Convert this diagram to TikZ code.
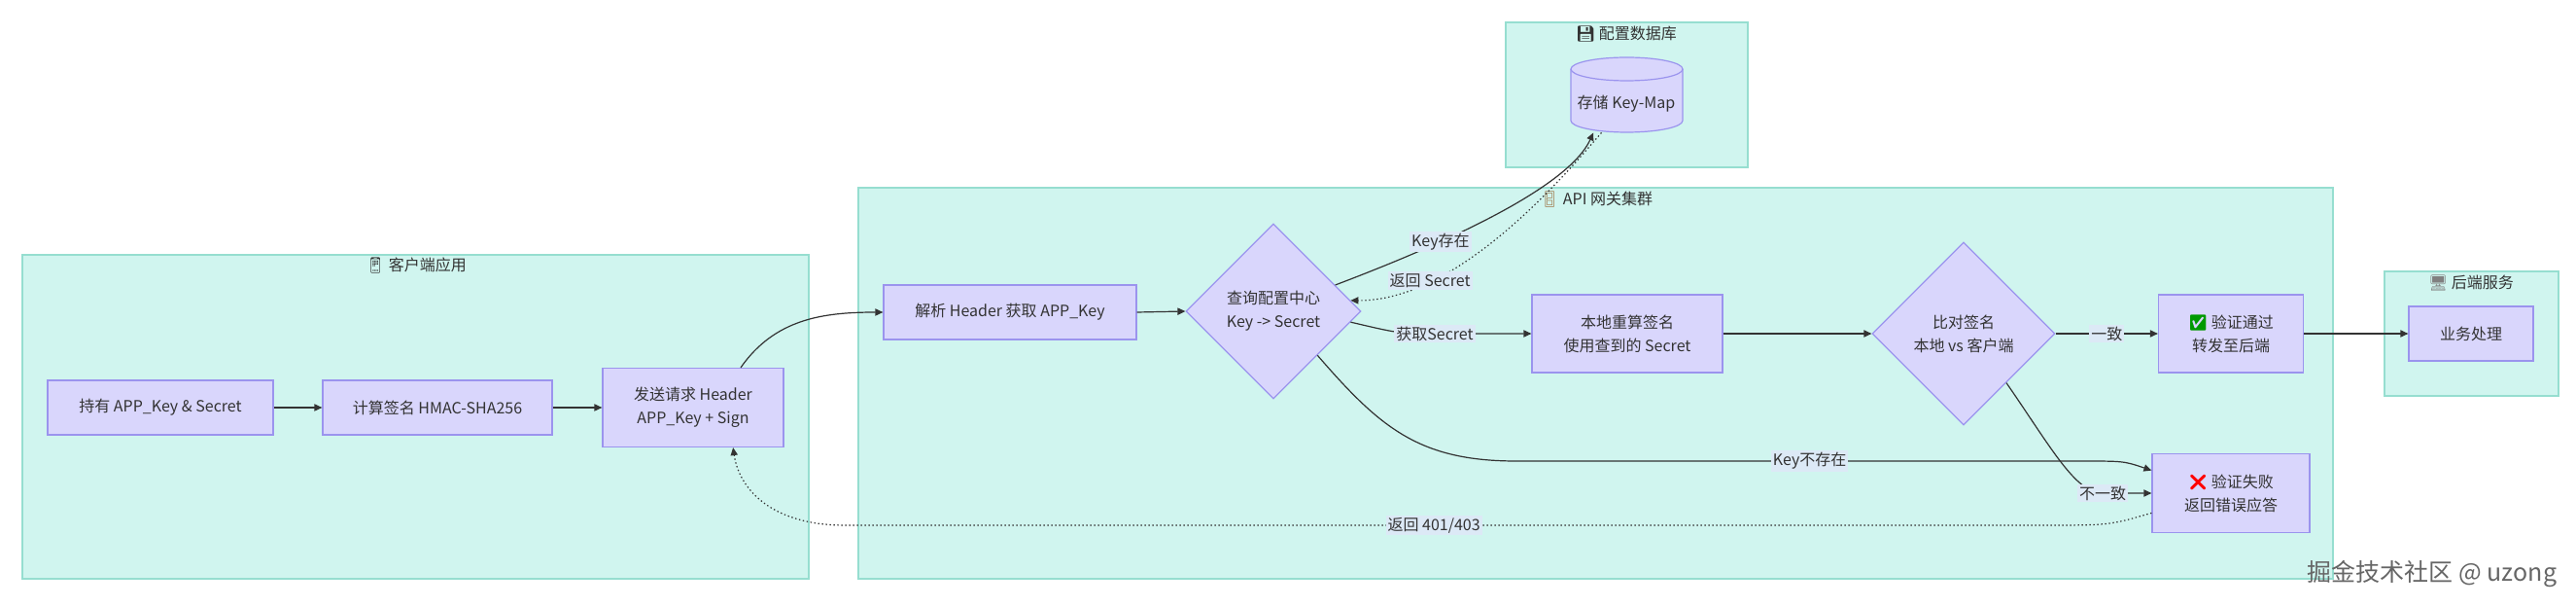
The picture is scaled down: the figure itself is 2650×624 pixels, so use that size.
\documentclass[tikz,border=0pt]{standalone}
\usepackage{fontspec}
\setmainfont{Noto Sans CJK SC}
\newfontfamily\emoji{Noto Emoji}
\usetikzlibrary{arrows.meta,shapes.geometric}
\definecolor{clusterfill}{RGB}{208,245,239}
\definecolor{clusterline}{RGB}{150,222,208}
\definecolor{boxfill}{RGB}{217,214,252}
\definecolor{boxline}{RGB}{155,148,238}
\definecolor{lblfill}{RGB}{220,233,246}
\definecolor{ink}{RGB}{51,51,51}
\begin{document}
\begin{tikzpicture}[x=0.5pt,y=-0.5pt,
	every node/.style={font=\fontsize{8}{12}\selectfont, text=ink},
	cluster/.style={fill=clusterfill, draw=clusterline, line width=0.6pt},
	box/.style={rectangle, fill=boxfill, draw=boxline, line width=0.6pt, align=center, inner sep=0pt},
	decision/.style={diamond, aspect=1, fill=boxfill, draw=boxline, line width=0.6pt, align=center, inner sep=0pt},
	flow/.style={draw=ink, line width=0.6pt, -{Triangle[length=4pt,width=3.6pt]}},
	reply/.style={flow, dash pattern=on 0.7pt off 1.3pt},
	lbl/.style={fill=lblfill, inner sep=1pt}]
	\fill[white] (0,0) rectangle (2650,624);
	\useasboundingbox (0,0) rectangle (2650,624);
	\filldraw[cluster] (23,262) rectangle (832,595);
	\node (clienttitle) at (428,273) {{\emoji 📱} 客户端应用};
	\filldraw[cluster] (883,193) rectangle (2400,595);
	\node (gatewaytitle) at (1642,205) {{\color{brown!80!black}\emoji 🚪} API 网关集群};
	\filldraw[cluster] (1549,23) rectangle (1798,172);
	\node (dbtitle) at (1673,35) {{\emoji 💾} 配置数据库};
	\filldraw[cluster] (2453,279) rectangle (2632,407);
	\node (backendtitle) at (2542,291) {{\color{gray}\emoji 🖥} 后端服务};
	\node[box, minimum width=116pt, minimum height=28pt] (hold) at (165,419) {持有 APP\_Key \& Secret};
	\node[box, minimum width=118pt, minimum height=28pt] (sign) at (450,419) {计算签名 HMAC-SHA256};
	\node[box, minimum width=93pt, minimum height=40.5pt] (send) at (713,419) {发送请求 Header\\APP\_Key + Sign};
	\node[box, minimum width=130pt, minimum height=28pt] (parse) at (1039,321) {解析 Header 获取 APP\_Key};
	\node[decision, minimum width=90pt, minimum height=90pt] (query) at (1310,320) {查询配置中心\\Key -> Secret};
	\node[box, minimum width=98pt, minimum height=40pt] (recalc) at (1674,343) {本地重算签名\\使用查到的 Secret};
	\node[decision, minimum width=94pt, minimum height=94pt] (compare) at (2020,343) {比对签名\\本地 vs 客户端};
	\node[box, minimum width=74.5pt, minimum height=40pt] (pass) at (2295,343) {{\color{green!60!black}\emoji ✅} 验证通过\\转发至后端};
	\node[box, minimum width=64pt, minimum height=28pt] (biz) at (2542,343) {业务处理};
	\node[box, minimum width=81pt, minimum height=40.5pt] (fail) at (2295,507) {{\color{red}\emoji ❌} 验证失败\\返回错误应答};
	\filldraw[fill=boxfill, draw=boxline, line width=0.6pt] (1616,71) -- (1616,124) arc[start angle=180, end angle=360, x radius=28.75pt, y radius=6pt] -- (1731,71) arc[start angle=0, end angle=180, x radius=28.75pt, y radius=6pt] -- cycle;
	\draw[boxline, line width=0.6pt] (1616,71) arc[start angle=180, end angle=360, x radius=28.75pt, y radius=6pt];
	\node[minimum width=57.5pt, minimum height=29pt, inner sep=0pt] (keymap) at (1673,107) {存储 Key-Map};
	\draw[flow] (hold.east) -- (sign.west);
	\draw[flow] (sign.east) -- (send.west);
	\draw[flow] (send.40) to[out=55,in=180] (parse.west);
	\draw[flow] (parse.east) -- (query.west);
	\draw[flow] (query.23) .. controls (1450,264) and (1610,200) .. (keymap.221) node[lbl, pos=0.37] {Key存在};
	\draw[reply] (keymap.229) .. controls (1610,180) and (1500,310) .. (query.8.5) node[lbl, pos=0.75] {返回 Secret};
	\draw[flow] (query.-8.5) .. controls (1440,343) .. (1476,343) node[lbl] {获取Secret} -- (recalc.west);
	\draw[flow] (query.-45) .. controls (1420,440) and (1460,474) .. (1560,474) -- (2140,474) node[lbl, pos=0.52] {Key不存在} .. controls (2185,474) .. (fail.164.8);
	\draw[flow] (recalc.east) -- (compare.west);
	\draw[flow] (compare.east) -- (pass.west) node[lbl, midway] {一致};
	\draw[flow] (pass.east) -- (biz.west);
	\draw[flow] (compare.-49) .. controls (2110,460) and (2135,507) .. (2163,507) node[lbl] {不一致} -- (fail.west);
	\draw[reply] (fail.194.5) .. controls (2170,540) .. (2100,540) -- (870,540) node[lbl, pos=0.508] {返回 401/403} .. controls (790,540) and (760,500) .. (send.-45);
	\node[text=black!60, font=\fontsize{12.5}{15}\selectfont] (mark) at (2502,590) {掘金技术社区 @ uzong};
\end{tikzpicture}
\end{document}
